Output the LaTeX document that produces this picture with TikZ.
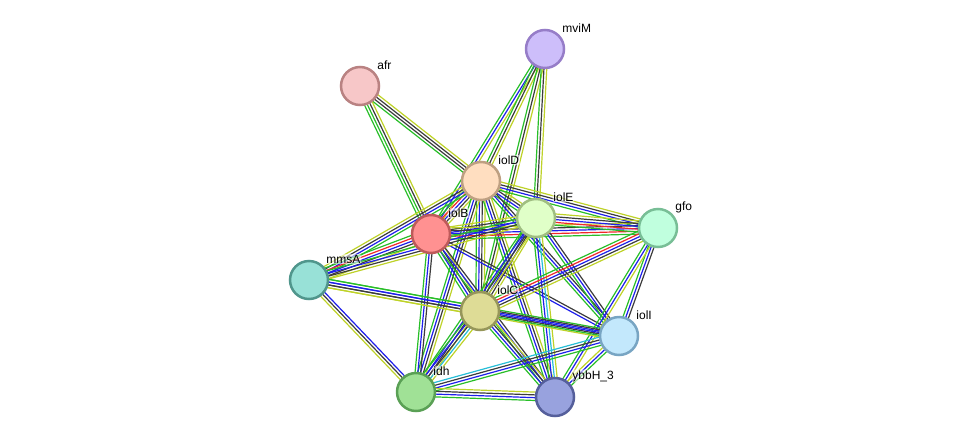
\documentclass[tikz,border=0pt]{standalone}
\usepackage{fontspec}
\setmainfont{Liberation Sans}
\usepackage{tikz}
\usetikzlibrary{calc}

\definecolor{sgreen}{RGB}{40,190,40}
\definecolor{sred}{RGB}{240,40,40}
\definecolor{sblue}{RGB}{30,30,235}
\definecolor{sblack}{RGB}{60,60,60}
\definecolor{syel}{RGB}{190,210,40}
\definecolor{scyan}{RGB}{40,190,215}

\pgfdeclarelayer{edges}
\pgfsetlayers{edges,main}

% bundle of parallel evidence lines between two proteins
\newcommand{\bundle}[3]{%
  \foreach \c [count=\n] in {#3} {\xdef\bundlen{\n}}%
  \foreach \c [count=\i] in {#3} {%
    \pgfmathsetmacro{\off}{(\i-(\bundlen+1)/2)*2.8}%
    \draw[\c, line width=1.2pt] ($(#1)!\off pt!90:(#2)$) -- ($(#2)!\off pt!-90:(#1)$);
  }%
}

\begin{document}
\begin{tikzpicture}[x=1pt, y=-1pt,
    prot/.style={circle, minimum size=38pt, inner sep=0pt, line width=2.5pt},
    lab/.style={font=\fontsize{12}{14}\selectfont, anchor=west, inner sep=0.8pt, xshift=-3.8pt, yshift=21pt,
      fill=white, fill opacity=0.55, text opacity=1, rounded corners=2pt}]
  \useasboundingbox (0,0) rectangle (976,442);

  % ----- Proteins -----
  \node[prot, fill={rgb,255:red,205;green,190;blue,250}, draw={rgb,255:red,150;green,125;blue,200}, label={[lab]0:mviM}] (mviM) at (545,49) {};
  \node[prot, fill={rgb,255:red,247;green,199;blue,200}, draw={rgb,255:red,185;green,130;blue,130}, label={[lab]0:afr}] (afr) at (360,86) {};
  \node[prot, fill={rgb,255:red,255;green,222;blue,192}, draw={rgb,255:red,190;green,160;blue,130}, label={[lab]0:iolD}] (iolD) at (481,181) {};
  \node[prot, fill={rgb,255:red,224;green,255;blue,200}, draw={rgb,255:red,160;green,190;blue,130}, label={[lab]0:iolE}] (iolE) at (536,218) {};
  \node[prot, fill={rgb,255:red,255;green,145;blue,145}, draw={rgb,255:red,190;green,90;blue,90}, label={[lab]0:iolB}] (iolB) at (431,234) {};
  \node[prot, fill={rgb,255:red,192;green,255;blue,222}, draw={rgb,255:red,120;green,190;blue,150}, label={[lab]0:gfo}] (gfo) at (658,228) {};
  \node[prot, fill={rgb,255:red,152;green,225;blue,215}, draw={rgb,255:red,80;green,150;blue,140}, label={[lab]0:mmsA}] (mmsA) at (309,280) {};
  \node[prot, fill={rgb,255:red,222;green,220;blue,150}, draw={rgb,255:red,150;green,150;blue,90}, label={[lab]0:iolC}] (iolC) at (480,311) {};
  \node[prot, fill={rgb,255:red,195;green,232;blue,252}, draw={rgb,255:red,120;green,165;blue,195}, label={[lab]0:iolI}] (iolI) at (619,336) {};
  \node[prot, fill={rgb,255:red,160;green,225;blue,150}, draw={rgb,255:red,90;green,160;blue,85}, label={[lab]0:idh}] (idh) at (416,392) {};
  \node[prot, fill={rgb,255:red,152;green,162;blue,222}, draw={rgb,255:red,85;green,95;blue,155}, label={[lab]0:ybbH\_3}] (ybbH) at (555,397) {};

  % ----- Interactions -----
  \begin{pgfonlayer}{edges}
    \bundle{afr}{iolD}{sgreen,sblack,sblack,syel}
    \bundle{afr}{iolB}{sgreen,sgreen,sblack,syel}
    \bundle{mviM}{iolB}{sgreen,sblue,syel}
    \bundle{mviM}{iolD}{sgreen,sblack,syel}
    \bundle{mviM}{iolC}{sgreen,sblack,syel}
    \bundle{mviM}{iolE}{sgreen,sblack,syel}
    \bundle{iolD}{iolB}{sgreen,sred,sblue,sblack,syel}
    \bundle{iolD}{iolE}{sgreen,sblue,sblack,syel}
    \bundle{iolD}{gfo}{sgreen,sblue,sblack,syel}
    \bundle{iolD}{iolC}{sgreen,sblue,sblack,syel}
    \bundle{iolD}{mmsA}{syel,sblack,sblue,sgreen}
    \bundle{iolD}{idh}{sgreen,sblue,sblack,syel}
    \bundle{iolD}{ybbH}{sgreen,sblue,sblack,syel}
    \bundle{iolD}{iolI}{sgreen,sblue,sblack}
    \bundle{iolB}{iolE}{sgreen,sblue,sblack,syel}
    \bundle{iolB}{gfo}{sgreen,sred,sblue,sblack,syel}
    \bundle{mmsA}{iolB}{syel,sblack,sblue,sred,sgreen}
    \bundle{iolB}{iolC}{sgreen,sblue,sblack,syel}
    \bundle{iolB}{idh}{sgreen,sblue,sblack}
    \bundle{iolB}{ybbH}{sgreen,sblue,sblack}
    \bundle{iolB}{iolI}{sblue,sblack}
    \bundle{iolE}{gfo}{sgreen,sred,sblue,sblack,syel}
    \bundle{iolE}{iolC}{sgreen,sblue,sblack,syel}
    \bundle{mmsA}{iolE}{syel,sblack,sblue,sgreen}
    \bundle{iolE}{idh}{sgreen,sblue,sblack,syel}
    \bundle{iolE}{ybbH}{sgreen,sblue,scyan,syel}
    \bundle{iolE}{iolI}{sgreen,sblue,sblack}
    \bundle{gfo}{iolC}{sgreen,sred,sblue,sblack,syel}
    \bundle{gfo}{iolI}{sgreen,sblue,sblack}
    \bundle{gfo}{ybbH}{sgreen,sblue,syel}
    \bundle{mmsA}{iolC}{syel,sblack,sblue,sgreen}
    \bundle{mmsA}{iolI}{syel,sblack,sblue,sgreen}
    \bundle{mmsA}{idh}{syel,sblack,sblue}
    \bundle{iolC}{idh}{sgreen,sblue,sblack,scyan,syel}
    \bundle{iolC}{ybbH}{sgreen,sblue,sblack,syel}
    \bundle{iolC}{iolI}{sgreen,sblue,sblack}
    \bundle{idh}{iolI}{sgreen,sblue,sblack,scyan}
    \bundle{ybbH}{iolI}{sgreen,sblue,syel}
    \bundle{idh}{ybbH}{sgreen,sblue,sblack,syel}
  \end{pgfonlayer}
\end{tikzpicture}
\end{document}
